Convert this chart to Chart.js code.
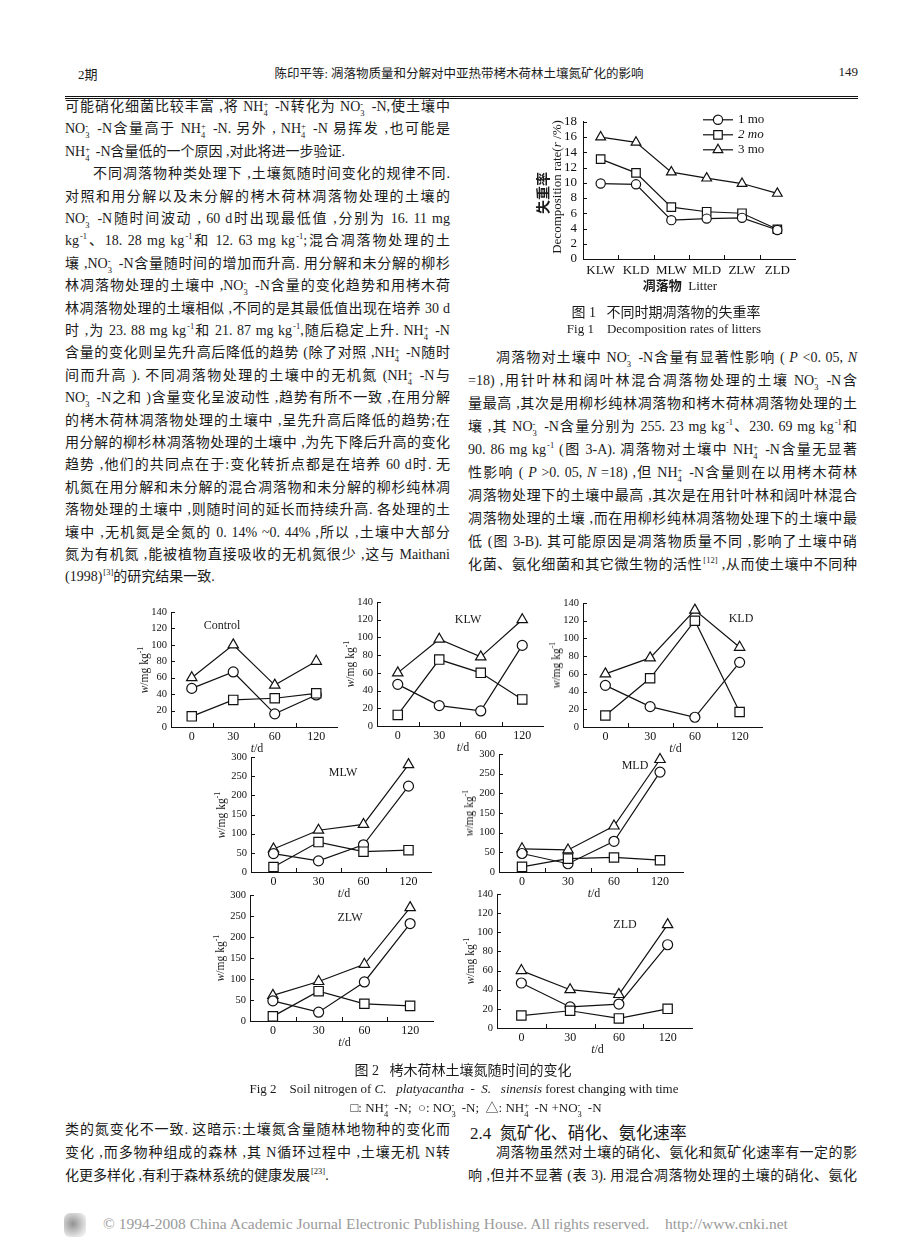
<!DOCTYPE html>
<html lang="zh-CN">
<head>
<meta charset="utf-8">
<script src="https://cdn.jsdelivr.net/npm/chart.js@4.4.1/dist/chart.umd.min.js"></script>
<style>
html,body{margin:0;padding:0;background:#fff;}
#page{position:relative;width:920px;height:1256px;overflow:hidden;background:#fff;color:#1a1a1a;font-family:"Liberation Serif","Noto Sans CJK SC",serif;}
.ln{position:absolute;height:20px;line-height:20px;font-size:14px;text-align:justify;text-align-last:justify;}
.ln.end{text-align-last:left;}
.ss{position:relative;display:inline-block;width:6px;height:1px;margin-right:1px;}
.ss>.a{position:absolute;left:0;bottom:3px;font-size:8.5px;line-height:8px;}
.ss>.b{position:absolute;left:0;top:-1px;font-size:8.5px;line-height:8px;}
.up{font-size:8.5px;position:relative;top:-6px;margin-left:1px;}
.abs{position:absolute;white-space:nowrap;}
.rot{position:absolute;white-space:nowrap;transform:translate(-50%,-50%) rotate(-90deg);}
.ctr{position:absolute;white-space:nowrap;transform:translate(-50%,-50%);}
canvas{position:absolute;}
</style>
</head>
<body>
<div id="page"></div>
<script>
// ---------------- DATA ----------------
// Fig 1: decomposition rate (%) of litters
const fig1Litters = ['KLW','KLD','MLW','MLD','ZLW','ZLD'];
const fig1Month1 = [9.9, 9.8, 5.1, 5.3, 5.4, 3.8];
const fig1Month2 = [13.1, 11.3, 6.8, 6.2, 6.0, 3.9];
const fig1Month3 = [16.0, 15.3, 11.4, 10.6, 9.9, 8.6];
const fig1SeriesNames = ['1 mo', '2 mo', '3 mo'];
const fig1YMax = 18, fig1YStep = 2;

// Fig 2: soil nitrogen (mg/kg) vs incubation time
const fig2Days = ['0', '30', '60', '120'];
const controlNH4 = [13, 33, 35, 41];
const controlNO3 = [47, 67, 16, 39];
const controlTotal = [60, 100, 51, 80];
const klwNH4 = [12.5, 75, 60, 30];
const klwNO3 = [47, 23, 17, 91];
const klwTotal = [60, 98, 78, 120];
const kldNH4 = [13, 55, 120, 17];
const kldNO3 = [47, 23, 11, 73];
const kldTotal = [60, 78, 132, 90];
const mlwNH4 = [13, 78, 53, 57];
const mlwNO3 = [48, 29, 71, 224];
const mlwTotal = [60, 109, 124, 280];
const mldNH4 = [13, 34, 37, 30];
const mldNO3 = [47, 21, 78, 254];
const mldTotal = [59, 56, 117, 286];
const zlwNH4 = [11, 71, 41, 36];
const zlwNO3 = [48, 21, 93, 232];
const zlwTotal = [61, 94, 135, 270];
const zldNH4 = [13, 18, 10, 20];
const zldNO3 = [47, 22, 25, 87];
const zldTotal = [60, 40, 35, 108];

const fig2Panels = [
  {name:'Control', nh4:controlNH4, no3:controlNO3, total:controlTotal, yMax:140, yStep:20},
  {name:'KLW', nh4:klwNH4, no3:klwNO3, total:klwTotal, yMax:140, yStep:20},
  {name:'KLD', nh4:kldNH4, no3:kldNO3, total:kldTotal, yMax:140, yStep:20},
  {name:'MLW', nh4:mlwNH4, no3:mlwNO3, total:mlwTotal, yMax:300, yStep:50},
  {name:'MLD', nh4:mldNH4, no3:mldNO3, total:mldTotal, yMax:300, yStep:50},
  {name:'ZLW', nh4:zlwNH4, no3:zlwNO3, total:zlwTotal, yMax:300, yStep:50},
  {name:'ZLD', nh4:zldNH4, no3:zldNO3, total:zldTotal, yMax:140, yStep:20}
];

// ---------------- LAYOUT (positions only) ----------------
const fig2Layout = {
  Control:{left:171, right:337, top:612, bottom:727, tx:222, ty:625},
  KLW:{left:377, right:543, top:602, bottom:726, tx:468, ty:619},
  KLD:{left:583, right:762, top:603, bottom:727, tx:741, ty:618},
  MLW:{left:251, right:431, top:757, bottom:872, tx:343, ty:772},
  MLD:{left:499, right:683, top:754, bottom:872, tx:635, ty:765},
  ZLW:{left:250, right:433, top:895, bottom:1021, tx:350, ty:917},
  ZLD:{left:497, right:692, top:894, bottom:1028, tx:625, ty:924}
};
const fig1Layout = {left:583, right:795, top:120, bottom:259};

const page = document.getElementById('page');
function fmt(s){
  return s.replace(/\{NH\}/g,'NH<span class="ss"><span class="a">+</span><span class="b">4</span></span>')
          .replace(/\{NO\}/g,'NO<span class="ss"><span class="a">-</span><span class="b">3</span></span>')
          .replace(/\{m1\}/g,'<span class="up">-1</span>')
          .replace(/\{r(\d+)\}/g,'<span class="up">[$1]</span>');
}
function addEl(cls, html, style){
  const d=document.createElement('div'); d.className=cls; d.innerHTML=html; d.style.cssText=style; page.appendChild(d); return d;
}
function column(lines, x, w, y0, dy){
  lines.forEach((l,i)=>{
    let t=l.t, cls='ln'+(l.end?' end':''), ind=l.ind?28:0;
    addEl(cls, fmt(t), `left:${x+ind}px;width:${w-ind}px;top:${y0+i*dy-10}px;`);
  });
}

// ---------------- HEADER ----------------
addEl('abs','2期','left:78px;top:64px;font-size:13px;');
addEl('ctr','陈印平等: 凋落物质量和分解对中亚热带栲木荷林土壤氮矿化的影响','left:459px;top:72px;font-size:12.5px;');
addEl('abs','149','right:62px;top:64px;font-size:13px;');
addEl('abs','','left:65px;top:96px;width:793px;height:1px;border-top:1px solid #111;border-bottom:1px solid #111;');

// ---------------- LEFT COLUMN TEXT ----------------
column([
 {t:'可能硝化细菌比较丰富 ,将 {NH} -N转化为 {NO} -N,使土壤中'},
 {t:'{NO} -N含量高于 {NH} -N. 另外 , {NH} -N 易挥发 ,也可能是'},
 {t:'{NH} -N含量低的一个原因 ,对此将进一步验证.', end:true},
 {t:'不同凋落物种类处理下 ,土壤氮随时间变化的规律不同.', ind:true},
 {t:'对照和用分解以及未分解的栲木荷林凋落物处理的土壤的'},
 {t:'{NO} -N随时间波动 , 60 d时出现最低值 ,分别为 16. 11 mg'},
 {t:'kg{m1}、18. 28 mg kg{m1}和 12. 63 mg kg{m1};混合凋落物处理的土'},
 {t:'壤 ,{NO} -N含量随时间的增加而升高. 用分解和未分解的柳杉'},
 {t:'林凋落物处理的土壤中 ,{NO} -N含量的变化趋势和用栲木荷'},
 {t:'林凋落物处理的土壤相似 ,不同的是其最低值出现在培养 30 d'},
 {t:'时 ,为 23. 88 mg kg{m1}和 21. 87 mg kg{m1},随后稳定上升. {NH} -N'},
 {t:'含量的变化则呈先升高后降低的趋势 (除了对照 ,{NH} -N随时'},
 {t:'间而升高 ). 不同凋落物处理的土壤中的无机氮 ({NH} -N与'},
 {t:'{NO} -N之和 )含量变化呈波动性 ,趋势有所不一致 ,在用分解'},
 {t:'的栲木荷林凋落物处理的土壤中 ,呈先升高后降低的趋势;在'},
 {t:'用分解的柳杉林凋落物处理的土壤中 ,为先下降后升高的变化'},
 {t:'趋势 ,他们的共同点在于:变化转折点都是在培养 60 d时. 无'},
 {t:'机氮在用分解和未分解的混合凋落物和未分解的柳杉纯林凋'},
 {t:'落物处理的土壤中 ,则随时间的延长而持续升高. 各处理的土'},
 {t:'壤中 ,无机氮是全氮的 0. 14% ~0. 44% ,所以 ,土壤中大部分'},
 {t:'氮为有机氮 ,能被植物直接吸收的无机氮很少 ,这与 Maithani'},
 {t:'(1998){r3}的研究结果一致.', end:true}
], 65, 385, 107, 22.4);

// ---------------- RIGHT COLUMN TEXT ----------------
column([
 {t:'凋落物对土壤中 {NO} -N含量有显著性影响 ( <i>P</i> &lt;0. 05, <i>N</i>', ind:true},
 {t:'=18) ,用针叶林和阔叶林混合凋落物处理的土壤 {NO} -N含'},
 {t:'量最高 ,其次是用柳杉纯林凋落物和栲木荷林凋落物处理的土'},
 {t:'壤 ,其 {NO} -N含量分别为 255. 23 mg kg{m1}、230. 69 mg kg{m1}和'},
 {t:'90. 86 mg kg{m1} (图 3-A). 凋落物对土壤中 {NH} -N含量无显著'},
 {t:'性影响 ( <i>P</i> &gt;0. 05, <i>N</i> =18) ,但 {NH} -N含量则在以用栲木荷林'},
 {t:'凋落物处理下的土壤中最高 ,其次是在用针叶林和阔叶林混合'},
 {t:'凋落物处理的土壤 ,而在用柳杉纯林凋落物处理下的土壤中最'},
 {t:'低 (图 3-B). 其可能原因是凋落物质量不同 ,影响了土壤中硝'},
 {t:'化菌、氨化细菌和其它微生物的活性{r12} ,从而使土壤中不同种'}
], 468, 389, 358, 23);

// ---------------- BOTTOM TEXT ----------------
column([
 {t:'类的氮变化不一致. 这暗示:土壤氮含量随林地物种的变化而'},
 {t:'变化 ,而多物种组成的森林 ,其 N循环过程中 ,土壤无机 N转'},
 {t:'化更多样化 ,有利于森林系统的健康发展{r23}.', end:true}
], 65, 385, 1130, 23);
addEl('abs','2.4&nbsp;&nbsp;氮矿化、硝化、氨化速率','left:470px;top:1119px;font-size:17px;');
column([
 {t:'凋落物虽然对土壤的硝化、氨化和氮矿化速率有一定的影', ind:true},
 {t:'响 ,但并不显著 (表 3). 用混合凋落物处理的土壤的硝化、氨化'}
], 468, 389, 1153, 23);

// footer
addEl('abs','','left:64px;top:1213px;width:22px;height:24px;border-radius:6px;background:radial-gradient(circle at 40% 45%,#777 0,#aaa 35%,#ddd 70%,#fff 100%);opacity:0.8;');
addEl('abs','© 1994-2008 China Academic Journal Electronic Publishing House. All rights reserved.&nbsp;&nbsp;&nbsp;&nbsp;http://www.cnki.net','left:103px;top:1215px;font-size:15.5px;color:#9a9a9a;');

// ---------------- CHART HELPERS ----------------
Chart.defaults.font.family = '"Liberation Serif","Times New Roman",serif';
Chart.defaults.color = '#111';

const inwardTicks = {
  id:'inwardTicks',
  afterDatasetsDraw(chart, args, o){
    const {ctx, chartArea, scales} = chart;
    const x = scales.x, y = scales.y, len = (o && o.len) || 4;
    ctx.save(); ctx.strokeStyle='#111'; ctx.lineWidth=1; ctx.beginPath();
    const n = x.ticks.length;
    for(let i=1;i<n;i++){
      const px = Math.round((x.getPixelForValue(i-1)+x.getPixelForValue(i))/2)+0.5;
      ctx.moveTo(px, chartArea.bottom); ctx.lineTo(px, chartArea.bottom-len);
    }
    y.ticks.forEach((t,i)=>{ const py=Math.round(y.getPixelForTick(i))+0.5; ctx.moveTo(chartArea.left, py); ctx.lineTo(chartArea.left+len, py); });
    ctx.stroke(); ctx.restore();
  }
};
const lineLegend = {
  id:'lineLegend',
  afterDraw(chart, args, o){
    if(!o || !o.items) return;
    const {ctx, chartArea} = chart;
    o.items.forEach((name,i)=>{
      const y = chartArea.top + o.dy0 + i*o.dy;
      const x0 = chartArea.left + o.dx, x1 = x0 + o.len;
      const ds = chart.data.datasets[i];
      ctx.save();
      ctx.strokeStyle='#111'; ctx.lineWidth=1.2;
      ctx.beginPath(); ctx.moveTo(x0,y); ctx.lineTo(x1,y); ctx.stroke();
      ctx.fillStyle='#fff'; ctx.strokeStyle='#111'; ctx.lineWidth=1.2;
      Chart.helpers.drawPoint(ctx,{pointStyle:ds.pointStyle, radius:ds.pointRadius, borderWidth:1.2, rotation:0}, (x0+x1)/2, y);
      ctx.fillStyle='#111';
      ctx.font = (o.italic && o.italic[i] ? 'italic ' : '') + '13px "Liberation Serif",serif';
      ctx.textBaseline='middle'; ctx.textAlign='left';
      ctx.fillText(name, x1+5, y);
      ctx.restore();
    });
  }
};

function series(data, style, r){
  return {data, borderColor:'#111', borderWidth:1.2, pointStyle:style, pointRadius:r, pointHoverRadius:r,
          pointBackgroundColor:'#fff', pointBorderColor:'#111', pointBorderWidth:1.2, fill:false, tension:0, clip:false};
}

function buildChart(c){
  const padT=12, padR=10;
  const cv=document.createElement('canvas');
  const w = c.yW + (c.right-c.left) + padR, h = padT + (c.bottom-c.top) + c.xH;
  cv.width=w; cv.height=h;
  cv.style.cssText=`left:${c.left-c.yW}px;top:${c.top-padT}px;width:${w}px;height:${h}px;`;
  page.appendChild(cv);
  new Chart(cv,{
    type:'line',
    data:{labels:c.labels, datasets:c.datasets},
    options:{
      responsive:false, animation:false, devicePixelRatio:1,
      layout:{padding:{top:padT,right:padR,left:0,bottom:0}},
      plugins:{legend:{display:false}, tooltip:{enabled:false}, lineLegend:c.legend||{}},
      scales:{
        x:{type:'category', offset:true,
           grid:{drawOnChartArea:false, drawTicks:false, color:'rgba(0,0,0,0)'},
           border:{display:true, color:'#111', width:1},
           ticks:{font:{size:c.xFont}, padding:c.xPad, color:'#111', maxRotation:0, autoSkip:false},
           afterFit(s){ s.height=c.xH; }},
        y:{min:0, max:c.yMax,
           grid:{drawOnChartArea:false, drawTicks:false, color:'rgba(0,0,0,0)'},
           border:{display:true, color:'#111', width:1},
           ticks:{stepSize:c.yStep, font:{size:c.yFont}, padding:c.yPad, color:'#111', autoSkip:false},
           afterFit(s){ s.width=c.yW; }}
      }
    },
    plugins:[inwardTicks, lineLegend]
  });
}

// ---------------- FIG 1 ----------------
buildChart({
  left:fig1Layout.left, right:fig1Layout.right, top:fig1Layout.top, bottom:fig1Layout.bottom,
  yW:34, xH:22, xFont:13, yFont:13, xPad:4, yPad:6,
  yMax:fig1YMax, yStep:fig1YStep, labels:fig1Litters,
  datasets:[series(fig1Month1,'circle',4.6), series(fig1Month2,'rect',6), series(fig1Month3,'triangle',5.6)],
  legend:{items:fig1SeriesNames, dx:120, len:30, dy0:-2, dy:15, italic:[false,true,false]}
});
addEl('rot','<b>失重率</b>','left:542px;top:193px;font-size:14px;');
addEl('rot','Decomposition rate(<i>r</i> /%)','left:557px;top:187px;font-size:13px;');
addEl('ctr','<b>凋落物</b>&nbsp;&nbsp;Litter','left:680px;top:284px;font-size:13px;');
addEl('ctr','图 1&nbsp;&nbsp;&nbsp;不同时期凋落物的失重率','left:666px;top:311px;font-size:14px;');
addEl('ctr','Fig 1&nbsp;&nbsp;&nbsp;&nbsp;Decomposition rates of litters','left:664px;top:329px;font-size:13px;');

// ---------------- FIG 2 ----------------
fig2Panels.forEach(p=>{
  const L = fig2Layout[p.name];
  buildChart({
    left:L.left, right:L.right, top:L.top, bottom:L.bottom,
    yW:32, xH:20, xFont:12, yFont:10.5, xPad:3, yPad:4,
    yMax:p.yMax, yStep:p.yStep, labels:fig2Days,
    datasets:[series(p.nh4,'rect',6.6), series(p.no3,'circle',5), series(p.total,'triangle',6)]
  });
  addEl('ctr', p.name, `left:${L.tx}px;top:${L.ty}px;font-size:12px;`);
  addEl('rot','<i>w</i>/mg kg<span style="font-size:8px;position:relative;top:-5px">-1</span>',`left:${L.left-(p.yMax>=200?30:27)}px;top:${(L.top+L.bottom)/2}px;font-size:11.5px;`);
  addEl('ctr','<i>t</i>/d',`left:${(L.left+L.right)/2+3}px;top:${L.bottom+21}px;font-size:12px;`);
});
addEl('ctr','图 2&nbsp;&nbsp;&nbsp;栲木荷林土壤氮随时间的变化','left:463px;top:1069px;font-size:14px;');
addEl('ctr','Fig 2&nbsp;&nbsp;&nbsp;&nbsp;Soil nitrogen of <i>C.&nbsp;&nbsp;&nbsp;platyacantha</i>&nbsp;&nbsp;-&nbsp;&nbsp;<i>S.&nbsp;&nbsp;&nbsp;sinensis</i> forest changing with time','left:464px;top:1089px;font-size:13px;');
addEl('ctr',fmt('□: {NH} -N;&nbsp;&nbsp;○: {NO} -N;&nbsp;&nbsp;△: {NH} -N +{NO} -N'),'left:476px;top:1106px;font-size:13px;');
</script>
</body>
</html>
